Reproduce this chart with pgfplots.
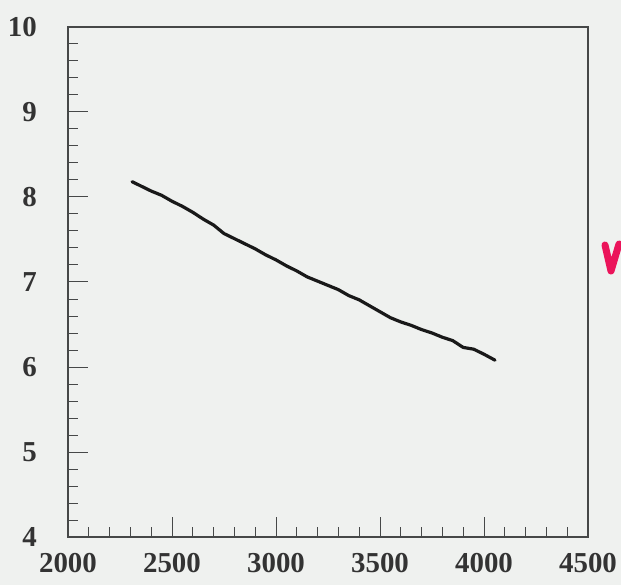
\documentclass[border=0pt]{standalone}
\usepackage{fontspec}
\setmainfont{Liberation Serif}
\usepackage{pgfplots}
\pgfplotsset{compat=1.18}
\definecolor{paper}{RGB}{239,241,239}
\definecolor{axisgray}{RGB}{70,72,72}
\definecolor{pen}{RGB}{235,20,90}

\begin{document}
\begin{tikzpicture}
% page = 621x585, axis box origin at px (68,537)
\path[use as bounding box, fill=paper] (-68bp,-48bp) rectangle (553bp,537bp);
\begin{axis}[
  at={(0,0)}, anchor=south west,
  scale only axis,
  width=520bp, height=510bp,
  xmin=2000, xmax=4500,
  ymin=4, ymax=10,
  xtick={2000,2500,...,4500},
  ytick={4,5,...,10},
  minor x tick num=4,
  minor y tick num=4,
  tick pos=left,
  tick align=inside,
  major tick length=20bp,
  minor tick length=10bp,
  axis line style={axisgray, line width=1.1bp},
  every tick/.style={axisgray, line width=1bp},
  scaled ticks=false,
  /pgf/number format/1000 sep={},
  /pgf/number format/assume math mode=true,
  ticklabel style={font=\fontsize{29}{30}\selectfont\bfseries, text=black!80, inner sep=0pt},
  xticklabel style={yshift=-16bp},
  yticklabel style={xshift=-31bp},
]
\addplot[black!90, line width=3.2bp, line join=round, line cap=round] coordinates {
(2308,8.18) (2350,8.13) (2400,8.07) (2450,8.02) (2500,7.95)
(2550,7.89) (2600,7.82) (2650,7.74) (2700,7.67) (2750,7.57)
(2800,7.51) (2850,7.45) (2900,7.39) (2950,7.32) (3000,7.26)
(3050,7.19) (3100,7.13) (3150,7.06) (3200,7.01) (3250,6.96)
(3300,6.91) (3350,6.84) (3400,6.79) (3450,6.72) (3500,6.65)
(3550,6.58) (3600,6.53) (3650,6.49) (3700,6.44) (3750,6.40)
(3800,6.35) (3850,6.31) (3900,6.23) (3950,6.21) (4000,6.15)
(4053,6.08)
};
\end{axis}
% handwritten pen mark right of the frame
\draw[pen, line width=7bp, line cap=round, line join=round]
  (537bp,292bp) -- (543bp,266bp) -- (551bp,293bp);
\end{tikzpicture}
\end{document}
